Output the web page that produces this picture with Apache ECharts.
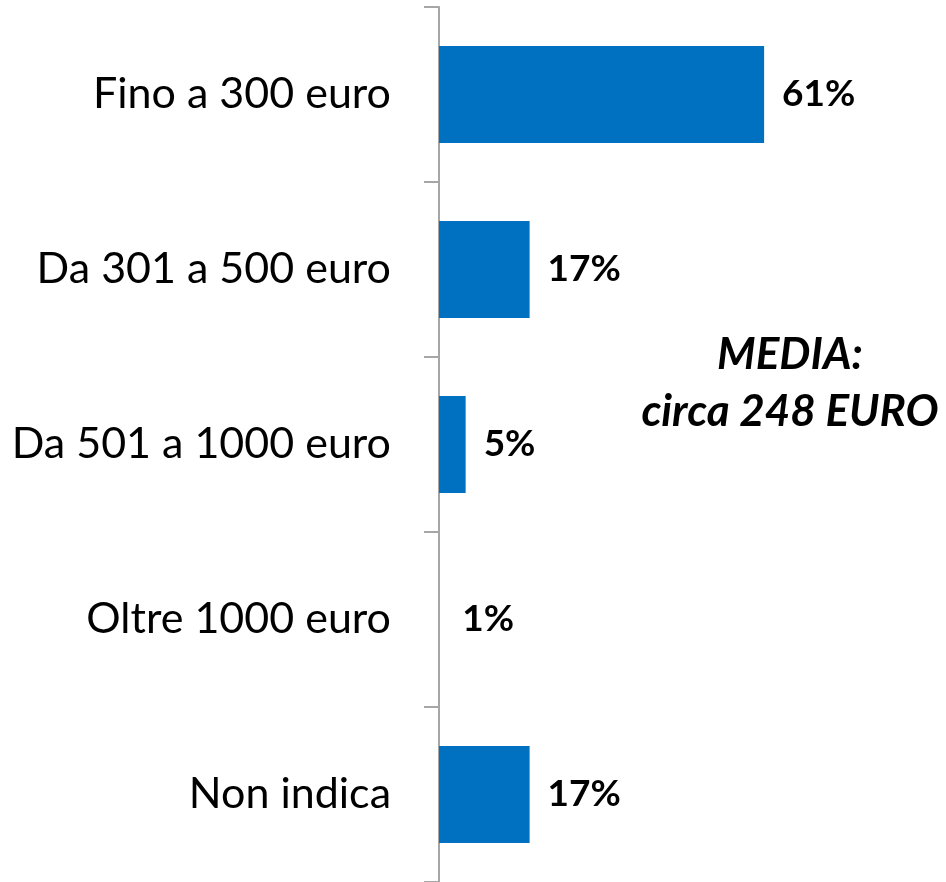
<!DOCTYPE html>
<html>
<head>
<meta charset="utf-8">
<script src="https://cdn.jsdelivr.net/npm/echarts@6/dist/echarts.min.js"></script>
<style>
  html, body { margin: 0; padding: 0; background: #fff; }
  #chart { width: 946px; height: 882px; }
</style>
</head>
<body>
<div id="chart"></div>
<script>
var categories = ["Fino a 300 euro", "Da 301 a 500 euro", "Da 501 a 1000 euro", "Oltre 1000 euro", "Non indica"];
var values = [61, 17, 5, 1, 17];
// the reference draws no visible bar for this category
var hiddenBars = ["Oltre 1000 euro"];
var noteLines = ["MEDIA:", "circa 248 EURO"];

var myChart = echarts.init(document.getElementById("chart"));
var font = "Lato";

var option = {
  animation: false,
  grid: {
    left: 439,
    right: 30,
    top: 7,
    bottom: 0
  },
  xAxis: {
    type: "value",
    min: 0,
    max: 89.5,
    show: false
  },
  yAxis: {
    type: "category",
    inverse: true,
    data: categories,
    axisLine: {
      show: true,
      lineStyle: { color: "#A6A6A6", width: 2 }
    },
    axisTick: {
      show: true,
      length: 15,
      lineStyle: { color: "#A6A6A6", width: 2 }
    },
    axisLabel: {
      margin: 48,
      fontFamily: font,
      fontSize: 43,
      color: "#000"
    },
    splitLine: { show: false }
  },
  series: [
    {
      type: "bar",
      barWidth: 97,
      data: values.map(function (v, i) {
        var item = { value: v };
        if (hiddenBars.indexOf(categories[i]) >= 0) {
          item.itemStyle = { color: "rgba(0,0,0,0)" };
        }
        return item;
      }),
      itemStyle: { color: "#0070C0" },
      label: {
        show: true,
        position: "right",
        distance: 18,
        formatter: "{c}%",
        fontFamily: font,
        fontWeight: "bold",
        fontSize: 37,
        color: "#000"
      }
    }
  ],
  graphic: [
    {
      type: "text",
      x: 790,
      y: 383,
      style: {
        text: noteLines.join("\n"),
        fontFamily: font,
        fontWeight: "bold",
        fontStyle: "italic",
        fontSize: 44,
        lineHeight: 57,
        fill: "#000",
        align: "center",
        verticalAlign: "middle"
      }
    }
  ]
};

myChart.setOption(option);
window.addEventListener("resize", function () {
  myChart.resize();
});
</script>
</body>
</html>
